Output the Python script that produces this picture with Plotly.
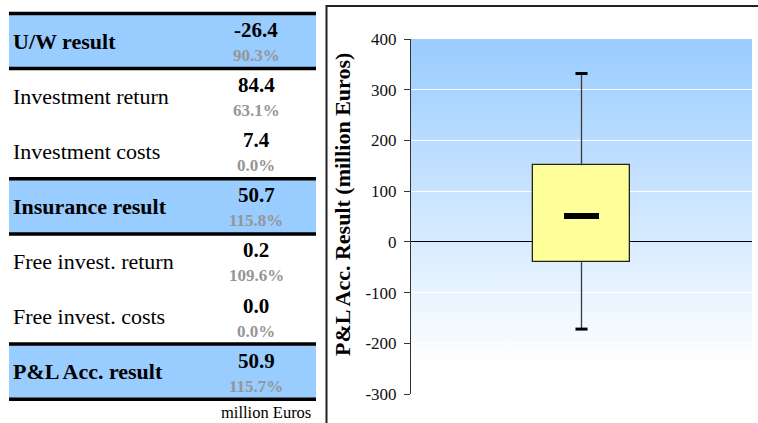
import base64
import plotly.graph_objects as go

# ---------------- data ----------------
row_labels = ["U/W result", "Investment return", "Investment costs", "Insurance result",
              "Free invest. return", "Free invest. costs", "P&L Acc. result"]
row_values = [-26.4, 84.4, 7.4, 50.7, 0.2, 0.0, 50.9]
row_pcts = [90.3, 63.1, 0.0, 115.8, 109.6, 0.0, 115.7]
row_highlight = [True, False, False, True, False, False, True]
unit_label = "million Euros"

box_category = ["P&L Acc. result"]
box_q1 = [-40.0]
box_q3 = [151.0]
box_lower = [-172.0]
box_upper = [332.0]
box_mean = [50.9]
y_title = "P&L Acc. Result (million Euros)"
y_tick_values = [-300, -200, -100, 0, 100, 200, 300, 400]
y_tick_labels = ["-300", "-200", "-100", "0", "100", "200", "300", "400"]

# ---------------- helpers ----------------
W, H = 758, 423
FONT = "Liberation Serif"


def px(x):
    return x / W


def py(y):
    return 1 - y / H


fig = go.Figure()

# Box body (bar from q1 to q3)
fig.add_trace(go.Bar(
    x=box_category, y=[q3 - q1 for q1, q3 in zip(box_q1, box_q3)], base=box_q1,
    width=[0.282], marker=dict(color="#FFFF99", line=dict(color="#222222", width=1.3)),
    showlegend=False, hoverinfo="skip"))

# Whiskers
wx, wy = [], []
for c, q1, q3, lo, hi in zip(box_category, box_q1, box_q3, box_lower, box_upper):
    wx += [c, c, None, c, c]
    wy += [q3, hi, None, q1, lo]
fig.add_trace(go.Scatter(x=wx, y=wy, mode="lines", line=dict(color="#3a3a3a", width=1.3),
                         showlegend=False, hoverinfo="skip"))

# Whisker caps
fig.add_trace(go.Scatter(
    x=box_category * 2, y=box_upper + box_lower, mode="markers",
    marker=dict(symbol="line-ew", size=8.6, line=dict(color="black", width=3)),
    showlegend=False, hoverinfo="skip"))

# Mean bar
fig.add_trace(go.Scatter(
    x=box_category, y=box_mean, mode="markers",
    marker=dict(symbol="line-ew", size=25, line=dict(color="black", width=6)),
    showlegend=False, hoverinfo="skip"))

# Gradient background image
svg = ('<svg xmlns="http://www.w3.org/2000/svg" width="100" height="100" viewBox="0 0 100 100" '
       'preserveAspectRatio="none"><defs><linearGradient id="g" x1="0" y1="0" x2="0" y2="1">'
       '<stop offset="0" stop-color="#99CCFF"/><stop offset="0.92" stop-color="#FFFFFF"/>'
       '</linearGradient></defs><rect width="100" height="100" fill="url(#g)"/></svg>')
src = "data:image/svg+xml;base64," + base64.b64encode(svg.encode()).decode()

shapes = []
annotations = []

# Table: highlighted rows and thick rules
row_h = 55.1
top0 = 13.5
bounds = set()
for i, hl in enumerate(row_highlight):
    t = top0 + row_h * i
    b = t + row_h
    if hl:
        shapes.append(dict(type="rect", xref="paper", yref="paper", x0=px(9), x1=px(316),
                           y0=py(b), y1=py(t), fillcolor="#99CCFF", line=dict(width=0),
                           layer="below"))
        bounds.add(round(t, 2))
        bounds.add(round(b, 2))
for yb in sorted(bounds):
    shapes.append(dict(type="line", xref="paper", yref="paper", x0=px(9), x1=px(316),
                       y0=py(yb), y1=py(yb), line=dict(color="black", width=3.5)))

for i, (lab, val, pct, hl) in enumerate(zip(row_labels, row_values, row_pcts, row_highlight)):
    t = top0 + row_h * i
    annotations.append(dict(
        x=px(11), y=py(t + 27.5), xref="paper", yref="paper", xanchor="left", yanchor="middle",
        text=f"<b>{lab}</b>" if hl else lab, showarrow=False,
        font=dict(family=FONT, size=22, color="black")))
    annotations.append(dict(
        x=px(256), y=py(t + 16.5), xref="paper", yref="paper", xanchor="center", yanchor="middle",
        text=f"<b>{val:.1f}</b>", showarrow=False,
        font=dict(family=FONT, size=21, color="black")))
    annotations.append(dict(
        x=px(256), y=py(t + 42), xref="paper", yref="paper", xanchor="center", yanchor="middle",
        text=f"<b>{pct:.1f}%</b>", showarrow=False,
        font=dict(family=FONT, size=17, color="#969696")))

annotations.append(dict(
    x=px(313), y=py(412.5), xref="paper", yref="paper", xanchor="right", yanchor="middle",
    text=unit_label, showarrow=False, font=dict(family=FONT, size=16.5, color="black")))

annotations.append(dict(
    x=px(343), y=py(205), xref="paper", yref="paper", xanchor="center", yanchor="middle",
    text=f"<b>{y_title}</b>", textangle=-90, showarrow=False,
    font=dict(family=FONT, size=22, color="black")))

# Chart frame
shapes.append(dict(type="rect", xref="paper", yref="paper", x0=px(326.5), x1=px(765),
                   y0=py(440), y1=py(6), line=dict(color="#222222", width=2),
                   fillcolor="rgba(0,0,0,0)"))

fig.update_layout(
    template="none",
    width=W, height=H, autosize=False,
    margin=dict(l=0, r=0, t=0, b=0, pad=0),
    paper_bgcolor="white", plot_bgcolor="rgba(0,0,0,0)",
    font=dict(family=FONT),
    showlegend=False, bargap=0,
    shapes=shapes, annotations=annotations,
    images=[dict(source=src, xref="x domain", yref="y domain", x=0, y=1, sizex=1, sizey=1,
                 xanchor="left", yanchor="top", sizing="stretch", layer="below")],
    xaxis=dict(domain=[px(411), px(752)], type="category", range=[-0.5, 0.5],
               automargin=False,
               showticklabels=False, showgrid=False, zeroline=False, showline=False, ticks=""),
    yaxis=dict(domain=[py(394), py(39)], range=[-300, 400],
               tickmode="array", tickvals=y_tick_values, ticktext=y_tick_labels,
               automargin=False,
               showgrid=True, gridcolor="white", gridwidth=1,
               zeroline=True, zerolinecolor="black", zerolinewidth=1,
               showline=True, linecolor="#333333", linewidth=1,
               ticks="outside", ticklen=6, tickcolor="#333333",
               tickfont=dict(family=FONT, size=17, color="#111111"),
               ticklabelstandoff=4),
)

fig.write_html("out.html",
               config={"displayModeBar": False},
               post_script="document.body.style.margin='0';document.body.style.overflow='hidden';")
